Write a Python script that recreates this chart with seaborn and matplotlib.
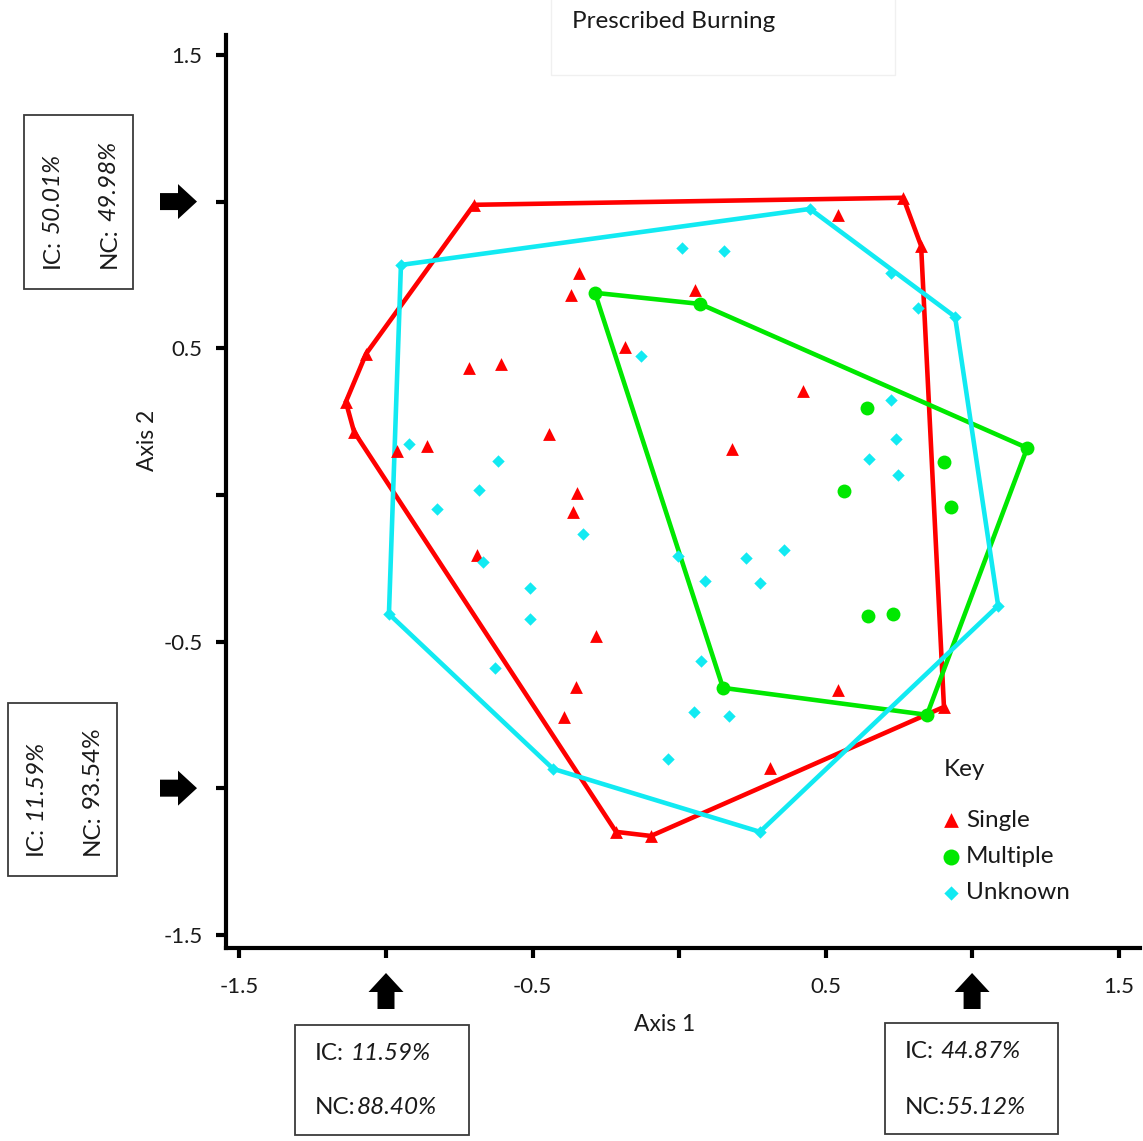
import numpy as np
import pandas as pd
import matplotlib
matplotlib.use("Agg")
import matplotlib.pyplot as plt
from matplotlib.patches import FancyArrow, Rectangle
from matplotlib.text import Annotation
import seaborn as sns

# Ordination scores (Axis 1, Axis 2) for each fire-history group
single_x = [-0.700, 0.765, 0.826, 0.904, -0.096, -0.215, -1.109, -1.137, -1.068,
            -0.341, -0.369, -0.184, -0.717, -0.608, -0.444, -0.962, -0.860, -0.348,
            0.543, 0.055, 0.423, 0.181, -0.362, -0.689, -0.283, -0.352, -0.392,
            0.543, 0.311]
single_y = [0.989, 1.013, 0.849, -0.723, -1.163, -1.149, 0.215, 0.317, 0.481,
            0.757, 0.682, 0.505, 0.433, 0.447, 0.208, 0.150, 0.167, 0.007,
            0.955, 0.699, 0.355, 0.157, -0.058, -0.205, -0.481, -0.655, -0.757,
            -0.665, -0.931]

multiple_x = [-0.287, 0.072, 1.188, 0.846, 0.150, 0.642, 0.563, 0.904, 0.928, 0.645, 0.730]
multiple_y = [0.689, 0.651, 0.160, -0.750, -0.658, 0.297, 0.014, 0.113, -0.041, -0.413, -0.406]

unknown_x = [-0.949, 0.447, 0.942, 1.089, 0.276, -0.430, -0.990,
             -0.922, -0.618, -0.683, 0.010, 0.154, 0.723, 0.816, -0.130, 0.723,
             0.741, 0.648, 0.747, -0.826, -0.328, -0.669, -0.509, -0.509, -0.628,
             -0.003, 0.229, 0.358, 0.089, 0.276, 0.075, 0.051, 0.171, -0.038]
unknown_y = [0.784, 0.975, 0.607, -0.378, -1.149, -0.934, -0.406,
             0.174, 0.116, 0.017, 0.842, 0.832, 0.757, 0.638, 0.474, 0.324,
             0.191, 0.123, 0.068, -0.048, -0.133, -0.228, -0.317, -0.423, -0.590,
             -0.208, -0.215, -0.188, -0.293, -0.300, -0.566, -0.740, -0.753, -0.900]

groups = ["Single", "Multiple", "Unknown"]
colors = {"Single": "#ff0000", "Multiple": "#00e800", "Unknown": "#12eaf2"}
markers = {"Single": "^", "Multiple": "o", "Unknown": "D"}
sizes = {"Single": 85, "Multiple": 100, "Unknown": 40}

# Axis-percentage annotations
left_top_ic, left_top_nc = "50.01%", "49.98%"
left_bot_ic, left_bot_nc = "11.59%", "93.54%"
bot_left_ic, bot_left_nc = "11.59%", "88.40%"
bot_right_ic, bot_right_nc = "44.87%", "55.12%"

df = pd.concat([
    pd.DataFrame({"Axis 1": single_x, "Axis 2": single_y, "Group": "Single"}),
    pd.DataFrame({"Axis 1": multiple_x, "Axis 2": multiple_y, "Group": "Multiple"}),
    pd.DataFrame({"Axis 1": unknown_x, "Axis 2": unknown_y, "Group": "Unknown"}),
], ignore_index=True)


def convex_hull(points):
    pts = sorted(set(map(tuple, points)))
    def cross(o, a, b):
        return (a[0] - o[0]) * (b[1] - o[1]) - (a[1] - o[1]) * (b[0] - o[0])
    lower, upper = [], []
    for p in pts:
        while len(lower) >= 2 and cross(lower[-2], lower[-1], p) <= 0:
            lower.pop()
        lower.append(p)
    for p in reversed(pts):
        while len(upper) >= 2 and cross(upper[-2], upper[-1], p) <= 0:
            upper.pop()
        upper.append(p)
    hull = lower[:-1] + upper[:-1]
    return np.array(hull + [hull[0]])


sns.set_style("ticks")
plt.rcParams["font.family"] = ["Lato", "DejaVu Sans"]
FS = 17.5      # general text
FS_TICK = 16   # tick labels
TXT = "#1a1a1a"

W, H = 1143, 1141
fig = plt.figure(figsize=(W / 100, H / 100), dpi=100)
ax = fig.add_axes([226 / W, 1 - 948 / H, 914 / W, 913 / H])

# hull outlines
for g, z in zip(groups, [2, 2.1, 2.2]):
    sub = df[df["Group"] == g]
    hull = convex_hull(sub[["Axis 1", "Axis 2"]].values)
    ax.plot(hull[:, 0], hull[:, 1], color=colors[g], lw=3.3, zorder=z,
            solid_joinstyle="miter")

for g in groups:
    sub = df[df["Group"] == g]
    sns.scatterplot(data=sub, x="Axis 1", y="Axis 2", ax=ax, color=colors[g],
                    marker=markers[g], s=sizes[g], linewidth=0, label=g, zorder=3)

ax.set_xlim(-1.546, 1.573)
ax.set_ylim(-1.545, 1.568)
ticks = np.arange(-1.5, 1.51, 0.5)
tick_labels = ["-1.5", "", "-0.5", "", "0.5", "", "1.5"]
ax.set_xticks(ticks, tick_labels)
ax.set_yticks(ticks, tick_labels)
for s in ["top", "right"]:
    ax.spines[s].set_visible(False)
for s in ["left", "bottom"]:
    ax.spines[s].set_linewidth(3)
    ax.spines[s].set_color("black")
ax.tick_params(axis="both", direction="out", length=7, width=3,
               labelsize=FS_TICK, color="black", labelcolor=TXT)
ax.tick_params(axis="x", pad=14)
ax.tick_params(axis="y", pad=10)

ax.set_xlabel("Axis 1", fontsize=FS_TICK + 0.5, color=TXT)
ax.set_ylabel("Axis 2", fontsize=FS_TICK + 0.5, color=TXT)
ax.xaxis.set_label_coords(0.480, -0.084)
ax.xaxis.label.set_va("center")
ax.yaxis.set_label_coords(-0.086, 0.556)
ax.yaxis.label.set_va("center")

leg = ax.legend(frameon=False, fontsize=FS, loc="upper left",
                bbox_to_anchor=(0.767, 0.170), handlelength=0.6,
                handletextpad=0.3, labelspacing=0.62, markerscale=1.15,
                borderpad=0.2)
for t in leg.get_texts():
    t.set_color(TXT)

inch = fig.dpi_scale_trans
def px(x, y):
    return x / 100, (H - y) / 100

fig.text(*px(944, 770), "Key", transform=inch, ha="left", va="center",
         fontsize=FS, color=TXT)

# title with faint frame
fig.add_artist(Rectangle(px(551, 75), 344 / 100, 80 / 100, transform=inch,
                         facecolor="none", edgecolor="#f0f0f0", lw=1, zorder=5))
fig.text(*px(674, 22), "Prescribed Burning", transform=inch, ha="center",
         va="center", fontsize=FS, color=TXT)

# block arrows marking axis positions at +/-1
def block_arrow(x0, y0, x1, y1):
    (ax0, ay0), (ax1, ay1) = px(x0, y0), px(x1, y1)
    fig.add_artist(FancyArrow(ax0, ay0, ax1 - ax0, ay1 - ay0, width=0.17,
                              head_width=0.35, head_length=0.19,
                              length_includes_head=True, transform=inch,
                              color="black", lw=0))

for yv in [1.0, -1.0]:
    ypix = H - ax.transData.transform((0, yv))[1]
    block_arrow(160, ypix, 197, ypix)
for xv in [-1.0, 1.0]:
    xpix = ax.transData.transform((xv, 0))[0]
    block_arrow(xpix, 1009, xpix, 973)


def box(x0, y0, x1, y1):
    fig.add_artist(Rectangle(px(x0, y1), (x1 - x0) / 100, (y1 - y0) / 100,
                             transform=inch, facecolor="white",
                             edgecolor="#3a3a3a", lw=1.3, zorder=4))


def mixed(x, y, plain, value, italic=True, rot=0, gap=4.5):
    """Label such as 'IC: 11.59%' with the value optionally in italics."""
    t = fig.text(*px(x, y), plain, transform=inch, rotation=rot,
                 rotation_mode="anchor", ha="left", va="center",
                 fontsize=FS, color=TXT, zorder=6)
    style = "italic" if italic else "normal"
    if rot == 90:
        ann = Annotation(value, xy=(1, 1), xycoords=t, xytext=(0, gap),
                         textcoords="offset points", rotation=90,
                         rotation_mode="anchor", ha="left", va="bottom",
                         fontsize=FS, color=TXT, fontstyle=style)
    else:
        ann = Annotation(value, xy=(1, 0), xycoords=t, xytext=(gap, 0),
                         textcoords="offset points", ha="left", va="bottom",
                         fontsize=FS, color=TXT, fontstyle=style)
    ann.set_zorder(6)
    fig.add_artist(ann)


# left boxes (rotated text)
box(24, 115, 133, 289)
mixed(52, 268, "IC:", left_top_ic, rot=90)
mixed(109, 268, "NC:", left_top_nc, rot=90)

box(8, 703, 117, 876)
mixed(35, 855, "IC:", left_bot_ic, rot=90)
mixed(92, 855, "NC:", left_bot_nc, italic=False, rot=90)

# bottom boxes
box(295, 1025, 469, 1135)
mixed(315, 1053, "IC:", bot_left_ic)
mixed(315, 1108, "NC:", bot_left_nc, gap=0.5)

box(885, 1023, 1058, 1134)
mixed(905, 1052, "IC:", bot_right_ic)
mixed(905, 1108, "NC:", bot_right_nc, gap=0.5)

fig.savefig("out.png", dpi=100, facecolor="white")
